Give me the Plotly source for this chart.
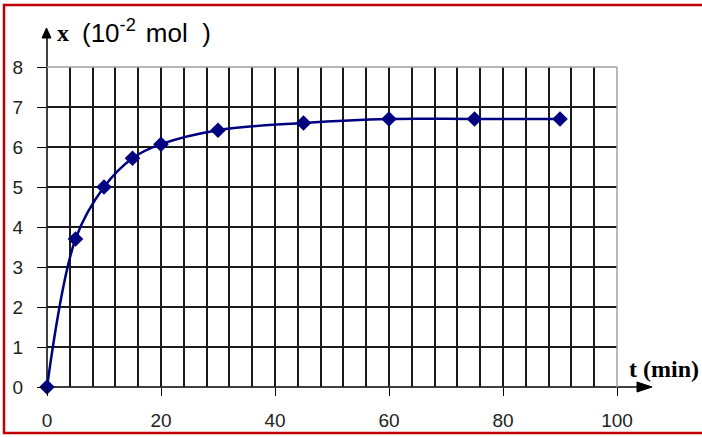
import plotly.graph_objects as go

# Data
t_min = [0, 5, 10, 15, 20, 30, 45, 60, 75, 90]
x_mol = [0, 3.7, 5.0, 5.72, 6.07, 6.42, 6.6, 6.7, 6.7, 6.7]
x_ticks = [0, 20, 40, 60, 80, 100]
y_ticks = [0, 1, 2, 3, 4, 5, 6, 7, 8]

W, H = 702, 437
L, R, T, B = 47, 85, 67, 50
PW, PH = W - L - R, H - T - B


def px(xp):
    return (xp - L) / PW


def py(yp):
    return (H - B - yp) / PH


fig = go.Figure()
fig.add_trace(go.Scatter(
    x=t_min, y=x_mol, mode="lines+markers",
    line=dict(color="#000080", width=2.5, shape="spline", smoothing=1.0),
    marker=dict(symbol="diamond", size=12, color="#000080"),
    cliponaxis=False, showlegend=False,
))

grid_col = "#1a1a1a"
tick_font = dict(family="Liberation Sans, Arial", size=19, color="#222")
fig.update_xaxes(
    range=[0, 100], tickvals=x_ticks, ticktext=[str(v) for v in x_ticks],
    showgrid=True, gridcolor=grid_col, gridwidth=1.5,
    minor=dict(dtick=4, tick0=0, showgrid=True, gridcolor=grid_col, gridwidth=1.5, ticks=""),
    ticks="outside", ticklen=8, tickwidth=1.2, tickcolor="black",
    showline=False, zeroline=False, automargin=False,
    tickfont=tick_font,
    ticklabelstandoff=8,
)
fig.update_yaxes(
    range=[0, 8], tickvals=y_ticks, ticktext=[str(v) for v in y_ticks],
    showgrid=True, gridcolor=grid_col, gridwidth=1.5,
    ticks="outside", ticklen=9, tickwidth=1.2, tickcolor="black",
    showline=False, zeroline=False, automargin=False,
    tickfont=tick_font,
    ticklabelstandoff=10,
)

shapes = []
# gray frame on top and right
shapes.append(dict(type="line", xref="paper", yref="paper", x0=0, x1=1, y0=1, y1=1,
                   line=dict(color="#a0a0a0", width=1.5), layer="above"))
shapes.append(dict(type="line", xref="paper", yref="paper", x0=1, x1=1, y0=0, y1=1,
                   line=dict(color="#a0a0a0", width=1.5), layer="above"))
# axes lines
shapes.append(dict(type="line", xref="paper", yref="paper", x0=0, x1=px(638), y0=0, y1=0,
                   line=dict(color="black", width=1.5), layer="below"))
shapes.append(dict(type="line", xref="paper", yref="paper", x0=0, x1=0, y0=0, y1=py(37),
                   line=dict(color="black", width=1.5), layer="below"))
# arrowheads
shapes.append(dict(type="path", xref="paper", yref="paper",
                   path=f"M {px(637)} {py(382)} L {px(652)} {py(387)} L {px(637)} {py(392)} Z",
                   fillcolor="black", line=dict(color="black", width=1)))
shapes.append(dict(type="path", xref="paper", yref="paper",
                   path=f"M {px(42)} {py(38)} L {px(46.5)} {py(28)} L {px(51)} {py(38)} Z",
                   fillcolor="black", line=dict(color="black", width=1)))
# red border
shapes.append(dict(type="rect", xref="paper", yref="paper",
                   x0=px(4), x1=px(710), y0=py(5), y1=py(433),
                   line=dict(color="#c00000", width=2.5), fillcolor="rgba(0,0,0,0)"))

annotations = [
    dict(xref="paper", yref="paper", x=px(55), y=py(48), xanchor="left", yanchor="bottom",
         text="<b>x</b>", showarrow=False,
         font=dict(family="Liberation Serif, Times New Roman", size=24, color="black")),
    dict(xref="paper", yref="paper", x=px(80), y=py(50), xanchor="left", yanchor="bottom",
         text="(10<sup>-2  </sup>mol  )", showarrow=False,
         font=dict(family="Liberation Sans, Arial", size=26, color="black")),
    dict(xref="paper", yref="paper", x=px(627), y=py(384), xanchor="left", yanchor="bottom",
         text="<b>t (min)</b>", showarrow=False,
         font=dict(family="Liberation Serif, Times New Roman", size=24, color="black")),
]

fig.update_layout(
    width=W, height=H,
    margin=dict(l=L, r=R, t=T, b=B),
    paper_bgcolor="white", plot_bgcolor="white",
    shapes=shapes, annotations=annotations,
)

fig.write_html("out.html")
